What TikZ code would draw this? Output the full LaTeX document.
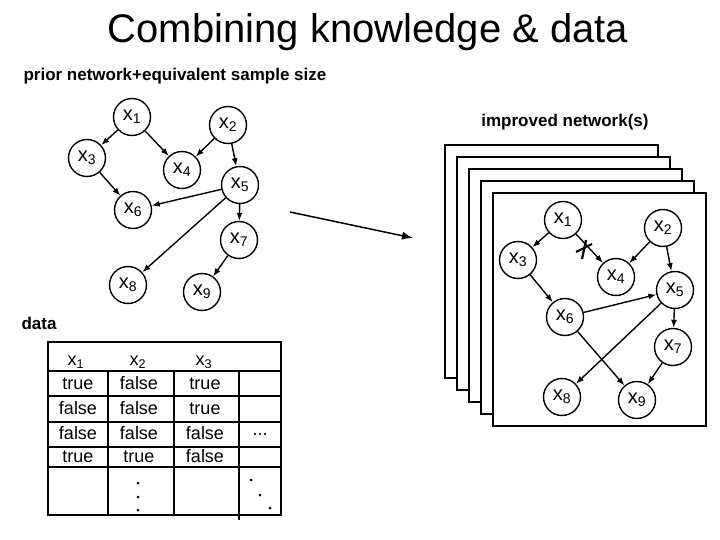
\documentclass[tikz,border=0pt]{standalone}
\usepackage{fontspec}
\setmainfont{Liberation Sans}
\usetikzlibrary{arrows.meta}
\newcommand{\xs}[1]{x\textsubscript{#1}}
\begin{document}
\begin{tikzpicture}[x=1pt,y=-1pt,
 nd/.style={circle,draw,line width=1.4pt,minimum size=37pt,inner sep=0pt,font=\fontsize{20}{20}\selectfont},
 ed/.style={line width=1.4pt,-{Latex[length=8pt,width=6pt]}},
 cell/.style={font=\fontsize{18}{18}\selectfont,text height=13pt,text depth=2pt,inner sep=0pt},
 tl/.style={line width=1.4pt}]
\useasboundingbox (0,0) rectangle (720,540);
\node (title) at (368,32) {\fontsize{40}{40}\selectfont Combining knowledge \& data};
\node[anchor=west,font=\bfseries\fontsize{17}{17}\selectfont] (prior) at (20,76) {prior network+equivalent sample size};
\node[font=\bfseries\fontsize{17}{17}\selectfont] (impr) at (565,122) {improved network(s)};
\node[anchor=west,font=\bfseries\fontsize{17}{17}\selectfont] (data) at (18,323) {data};
% left network
\node[nd] (a1) at (132,117) {\xs1};
\node[nd] (a2) at (228,125) {\xs2};
\node[nd] (a3) at (87,158) {\xs3};
\node[nd] (a4) at (182,170) {\xs4};
\node[nd] (a5) at (240,185) {\xs5};
\node[nd] (a6) at (133,210) {\xs6};
\node[nd] (a7) at (239,240) {\xs7};
\node[nd] (a8) at (128,285) {\xs8};
\node[nd] (a9) at (202,292) {\xs9};
\draw[ed] (a1)--(a3); \draw[ed] (a1)--(a4); \draw[ed] (a2)--(a4); \draw[ed] (a2)--(a5);
\draw[ed] (a3)--(a6); \draw[ed] (a5)--(a6); \draw[ed] (a5)--(a8); \draw[ed] (a5)--(a7); \draw[ed] (a7)--(a9);
% big arrow
\coordinate (bs) at (290,212); \coordinate (be) at (413,238);
\draw[line width=1.5pt,-{Latex[length=11pt,width=8pt]}] (bs)--(be);
% frames
\foreach \i in {0,1,2,3,4}{
 \draw[line width=1.5pt,fill=white] (445+12*\i,145+12*\i) rectangle (658+12*\i,378+12*\i);}
% right network
\node[nd] (b1) at (563,220) {\xs1};
\node[nd] (b2) at (663,228) {\xs2};
\node[nd] (b3) at (518,260) {\xs3};
\node[nd] (b4) at (616,277) {\xs4};
\node[nd] (b5) at (675,290) {\xs5};
\node[nd] (b6) at (565,317) {\xs6};
\node[nd] (b7) at (673,347) {\xs7};
\node[nd] (b8) at (562,397) {\xs8};
\node[nd] (b9) at (637,400) {\xs9};
\draw[ed] (b1)--(b3); \draw[ed] (b1)--(b4); \draw[ed] (b2)--(b4); \draw[ed] (b2)--(b5);
\draw[ed] (b3)--(b6); \draw[ed] (b6)--(b5); \draw[ed] (b5)--(b8); \draw[ed] (b6)--(b9);
\draw[ed] (b5)--(b7); \draw[ed] (b7)--(b9);
\draw[line width=2.2pt] (586,240)--(582,259);
\draw[line width=2.2pt] (576,252)--(592,244);
% table
\draw[tl] (48,342) rectangle (281,515);
\draw[tl] (48,371)--(281,371);
\foreach \y in {396,422,447,467}{\draw[tl] (48,\y)--(281,\y);}
\foreach \x in {108,174}{\draw[tl] (\x,371)--(\x,515);}
\draw[tl] (239,371)--(239,520);
\node[cell] (h1) at (76,360) {\xs1};
\node[cell] (h2) at (138,360) {\xs2};
\node[cell] (h3) at (204,360) {\xs3};
\node[cell] (r11) at (78,384) {true};  \node[cell] (r12) at (139,384) {false}; \node[cell] (r13) at (205,384) {true};
\node[cell] (r21) at (78,409) {false}; \node[cell] (r22) at (139,409) {false}; \node[cell] (r23) at (205,409) {true};
\node[cell] (r31) at (78,434) {false}; \node[cell] (r32) at (139,434) {false}; \node[cell] (r33) at (205,434) {false};
\node[cell] (r41) at (78,457) {true};  \node[cell] (r42) at (139,457) {true};  \node[cell] (r43) at (205,457) {false};
\node[cell] (dd) at (260,430) {...};
\foreach \p in {(138,483),(138,497),(138,510),(251,480),(260,495),(270,508)}{\fill \p circle (1.5pt);}
\end{tikzpicture}
\end{document}
